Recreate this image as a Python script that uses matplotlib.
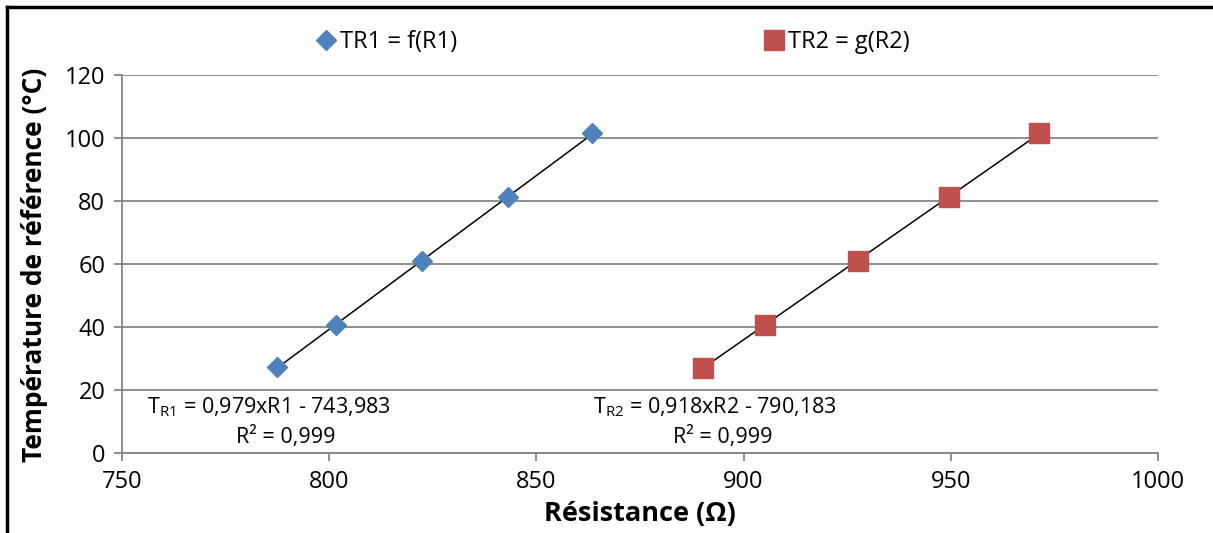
import numpy as np
import matplotlib
matplotlib.use('Agg')
import matplotlib.pyplot as plt
from matplotlib.lines import Line2D

# data
r1 = [787.3, 801.6, 822.5, 843.1, 863.5]
t1 = [27.2, 40.6, 61.0, 81.2, 101.5]
r2 = [890.1, 905.2, 927.5, 949.5, 971.3]
t2 = [27.1, 40.6, 61.0, 81.2, 101.5]
xticks = [750, 800, 850, 900, 950, 1000]
yticks = [0, 20, 40, 60, 80, 100, 120]

blue = '#4F81BD'
red = '#C0504D'
grey = '#868686'

plt.rcParams['font.family'] = ['Open Sans', 'DejaVu Sans']
plt.rcParams['mathtext.fontset'] = 'custom'
plt.rcParams['mathtext.rm'] = 'Open Sans'

fig = plt.figure(figsize=(12.13, 5.33), dpi=100)
ax = fig.add_axes([122/1213, 80/533, 1036/1213, 378/533])

ax.set_xlim(750, 1000)
ax.set_ylim(0, 120)
ax.set_xticks(xticks)
ax.set_yticks(yticks)
ax.grid(axis='y', color=grey, lw=1.3)
ax.set_axisbelow(True)
for s in ['top', 'right']:
    ax.spines[s].set_visible(False)
for s in ['left', 'bottom']:
    ax.spines[s].set_color(grey)
    ax.spines[s].set_linewidth(1.3)
ax.tick_params(axis='both', direction='out', length=6, width=1.3, color=grey,
               labelsize=17, pad=6)

# trend lines (least squares over each series)
for r, t in [(r1, t1), (r2, t2)]:
    k, b = np.polyfit(r, t, 1)
    xs = np.array([min(r), max(r)])
    ax.plot(xs, k * xs + b, color='black', lw=1.1, zorder=2)

ax.plot(r1, t1, 'D', color=blue, ms=10.5, mec=blue, label='TR1 = f(R1)', zorder=3)
ax.plot(r2, t2, 's', color=red, ms=14, mec=red, label='TR2 = g(R2)', zorder=3)

ax.text(785.5, 14.6, r'T$_{\mathregular{R1}}$ = 0,979xR1 - 743,983', ha='center', va='center', fontsize=15.5)
ax.text(789.6, 5.1, 'R² = 0,999', ha='center', va='center', fontsize=15.5)
ax.text(893.1, 14.6, r'T$_{\mathregular{R2}}$ = 0,918xR2 - 790,183', ha='center', va='center', fontsize=15.5)
ax.text(895.0, 5.1, 'R² = 0,999', ha='center', va='center', fontsize=15.5)

ax.set_xlabel('Résistance (Ω)', fontsize=19.5, fontweight='bold')
ax.set_ylabel('Température de référence (°C)', fontsize=19, fontweight='bold')
ax.xaxis.set_label_coords(0.5, -0.128)
ax.yaxis.set_label_coords(-0.071, 0.497)

fig.legend(loc='center', bbox_to_anchor=(612/1213, 1 - 42/533), ncol=2, frameon=False,
           fontsize=17, handletextpad=0.1, columnspacing=12.9, handlelength=1.0)

# outer frame (only top and left edges visible)
fig.add_artist(Line2D([7/1213, 7/1213], [0, 1 - 7/533], color='black', lw=2.5,
                      transform=fig.transFigure))
fig.add_artist(Line2D([7/1213, 1], [1 - 7/533, 1 - 7/533], color='black', lw=2.5,
                      transform=fig.transFigure))

fig.savefig('out.png', dpi=100)
